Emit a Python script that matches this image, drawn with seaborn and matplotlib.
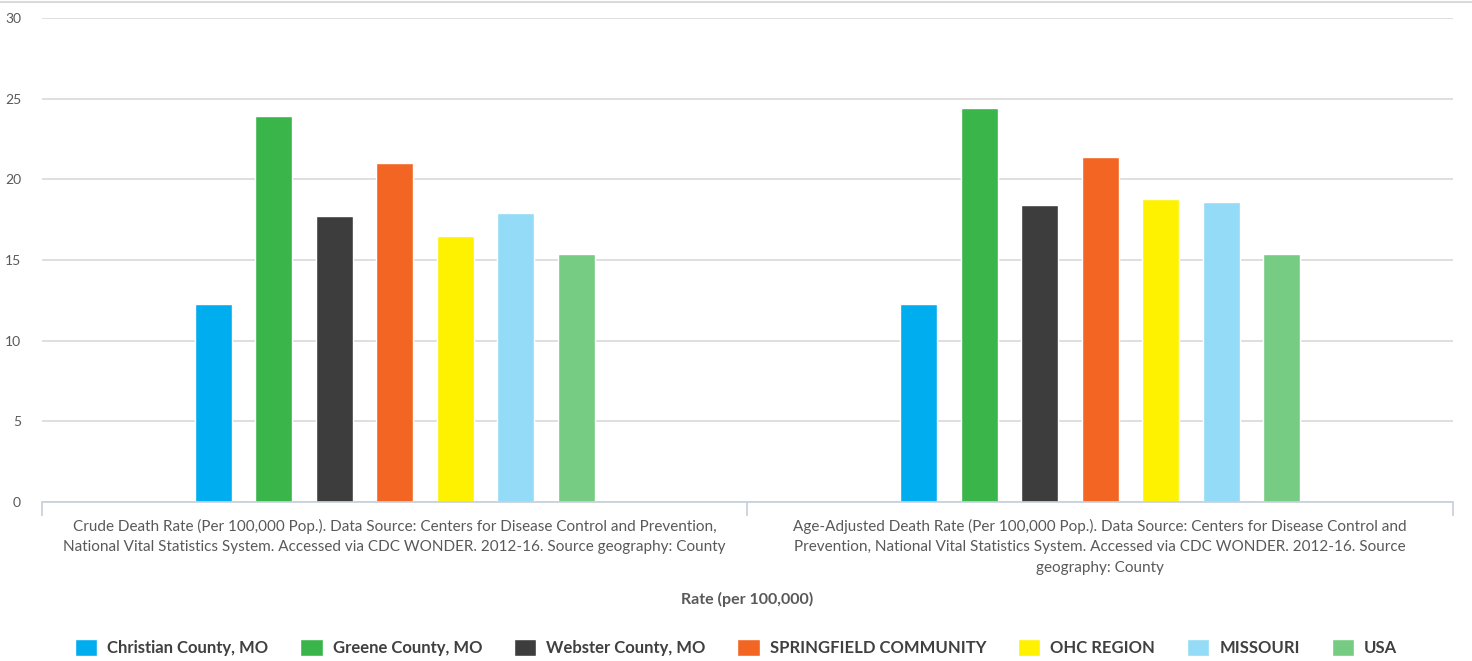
import pandas as pd
import matplotlib.pyplot as plt
import seaborn as sns

# Chart data
categories = [
    "Crude Death Rate (Per 100,000 Pop.). Data Source: Centers for Disease Control and Prevention,\n"
    "National Vital Statistics System. Accessed via CDC WONDER. 2012-16. Source geography: County",
    "Age-Adjusted Death Rate (Per 100,000 Pop.). Data Source: Centers for Disease Control and\n"
    "Prevention, National Vital Statistics System. Accessed via CDC WONDER. 2012-16. Source\n"
    "geography: County",
]
series = ["Christian County, MO", "Greene County, MO", "Webster County, MO",
          "SPRINGFIELD COMMUNITY", "OHC REGION", "MISSOURI", "USA"]
crude_rate = [12.3, 23.9, 17.7, 21.0, 16.5, 17.9, 15.4]
adjusted_rate = [12.3, 24.4, 18.4, 21.4, 18.8, 18.6, 15.4]
colors = ["#00AEEF", "#3AB54A", "#3D3D3D", "#F26522", "#FFF200", "#93DBF6", "#76CC82"]
y_ticks = [0, 5, 10, 15, 20, 25, 30]

sns.set_theme(style="white")
plt.rcParams['font.family'] = ['Lato', 'DejaVu Sans']

rows = []
for name, v1, v2 in zip(series, crude_rate, adjusted_rate):
    rows.append({'Category': categories[0], 'Series': name, 'Rate': v1})
    rows.append({'Category': categories[1], 'Series': name, 'Rate': v2})
df = pd.DataFrame(rows)

text_gray = '#595959'

fig = plt.figure(figsize=(14.72, 6.61), dpi=100)
ax = fig.add_axes([0.0285, 0.2405, 0.9585, 0.7323])

sns.barplot(data=df, x='Category', y='Rate', hue='Series', order=categories,
            hue_order=series, palette=colors, width=0.6, gap=0.39,
            saturation=1, ax=ax, legend=True)

ax.set_ylim(0, 30)
ax.set_xlim(-0.5, 1.5)
ax.set_yticks(y_ticks)
ax.yaxis.grid(True, color='#d9d9d9', linewidth=1.2)
ax.set_axisbelow(True)
for s in ['left', 'right', 'top']:
    ax.spines[s].set_visible(False)
ax.spines['bottom'].set_color('#c5d0dc')
ax.spines['bottom'].set_linewidth(1.2)

ax.tick_params(axis='y', length=0, labelsize=10, labelcolor=text_gray, pad=15)
ax.tick_params(axis='x', which='major', length=0, labelsize=11,
               labelcolor=text_gray, pad=12)
ax.set_xticks([-0.5, 0.5, 1.5], minor=True)
ax.tick_params(axis='x', which='minor', bottom=True, length=10, width=1.2,
               color='#c5d0dc')
for lbl in ax.get_xticklabels():
    lbl.set_linespacing(1.6)

ax.set_ylabel('')
ax.set_xlabel('Rate (per 100,000)', fontsize=11.5, fontweight='bold',
              color=text_gray, labelpad=12)

# Legend at the bottom
handles, labels = ax.get_legend_handles_labels()
ax.get_legend().remove()
fig.legend(handles, labels, loc='center', bbox_to_anchor=(0.5, 0.02),
           ncol=7, frameon=False, prop={'weight': 'bold', 'size': 12},
           handlelength=1.35, handleheight=1.15, handletextpad=0.6,
           columnspacing=1.9, labelcolor='#404040')

# Thin border line at the top
fig.add_artist(plt.Line2D([0, 1], [0.997, 0.997], color='#d9d9d9', linewidth=1.5,
                          transform=fig.transFigure))

fig.savefig('out.png', dpi=100)
